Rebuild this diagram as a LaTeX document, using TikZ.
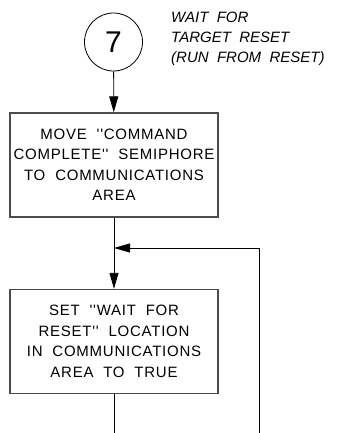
\documentclass[tikz,border=0pt]{standalone}
\usepackage{fontspec}
\newfontfamily\cadfont{Liberation Sans}[WordSpace=2]
\newfontfamily\cadwide{Liberation Sans}[WordSpace=2,LetterSpace=5]
\usepackage{tikz}
\usetikzlibrary{arrows.meta}

\begin{document}
\begin{tikzpicture}[x=1pt,y=-1pt]
\tikzset{term/.style = {shape=circle,draw,line width=0.8pt,minimum size=58pt,inner sep=0pt,font=\cadfont\fontsize{30}{30}\selectfont}}
\tikzset{proc/.style = {shape=rectangle,draw=black!70,line width=1.3pt,minimum width=208pt,minimum height=104pt,align=center,font=\cadwide\fontsize{15}{20.5}\selectfont}}
\tikzset{note/.style = {anchor=north west,align=left,inner sep=0pt,font=\cadfont\itshape\fontsize{15}{20}\selectfont}}
\tikzset{edge/.style = {line width=0.8pt,-{Triangle[length=16pt,width=9pt]}}}
\useasboundingbox (0,0) rectangle (339,433);
% vertices
\node[term] (start) at (113.5,42) {7};
\node[note] (label) at (171,12) {WAIT FOR\\TARGET RESET\\(RUN FROM RESET)};
\node[proc] (move) at (114,165) {MOVE ''COMMAND\\COMPLETE'' SEMIPHORE\\TO COMMUNICATIONS\\AREA};
\node[proc] (set) at (114,341.5) {SET ''WAIT FOR\\RESET'' LOCATION\\IN COMMUNICATIONS\\AREA TO TRUE};
\coordinate (join) at (114,248);
\coordinate (back) at (259,248);
\coordinate (backend) at (259,433);
\coordinate (out) at (114,433);
%edges
\draw[edge] (start) -- (move);
\draw[edge] (move) -- (set);
\draw[edge] (backend) -- (back) -- (join);
\draw[line width=0.8pt] (set) -- (out);
\end{tikzpicture}
\end{document}
